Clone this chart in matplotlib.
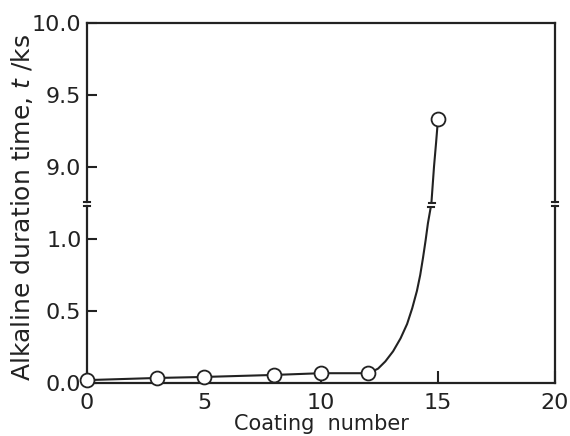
import matplotlib
matplotlib.use("Agg")
import matplotlib.pyplot as plt
from matplotlib.lines import Line2D

# data
coating = [0, 3, 5, 8, 10, 12, 15]
duration = [0.02, 0.035, 0.042, 0.056, 0.068, 0.068, 9.33]

# hand-drawn rising curve
curve_lo_x = [12.0, 12.2, 12.44, 12.75, 13.08, 13.4, 13.68, 13.9, 14.1, 14.24,
              14.36, 14.47, 14.57, 14.7]
curve_lo_y = [0.068, 0.08, 0.10, 0.15, 0.22, 0.31, 0.41, 0.52, 0.64, 0.75,
              0.87, 0.99, 1.11, 1.23]
curve_hi_x = [14.72, 14.83, 14.92, 15.0]
curve_hi_y = [8.75, 9.0, 9.17, 9.33]

x_ticks = [0, 5, 10, 15, 20]
y_ticks_lo = [0.0, 0.5, 1.0]
y_ticks_hi = [9.0, 9.5, 10.0]

W, H = 570, 436
fig = plt.figure(figsize=(W / 100, H / 100), dpi=100)
plt.rcParams['font.family'] = ['DejaVu Sans']
tc = '#222222'

def fx(px):
    return px / W

def fy(py):
    return 1 - py / H

L, R = 87, 555
top_hi, bot_hi = 23, 202
top_lo, bot_lo = 206, 383

ax_hi = fig.add_axes([fx(L), fy(bot_hi), fx(R) - fx(L), fy(top_hi) - fy(bot_hi)])
ax_lo = fig.add_axes([fx(L), fy(bot_lo), fx(R) - fx(L), fy(top_lo) - fy(bot_lo)])

ylo_top = (bot_lo - top_lo) / 144.0
yhi_bot = 10.0 - (bot_hi - top_hi) / 143.5

for ax in (ax_hi, ax_lo):
    ax.set_xlim(0, 20)
    for s in ax.spines.values():
        s.set_linewidth(1.6)
        s.set_color(tc)
    ax.tick_params(direction='in', length=7, width=1.5, colors=tc,
                   labelsize=16, pad=4, labelcolor=tc)

ax_lo.set_ylim(0, ylo_top)
ax_hi.set_ylim(yhi_bot, 10.0)

ax_hi.spines['bottom'].set_visible(False)
ax_lo.spines['top'].set_visible(False)
ax_hi.tick_params(axis='x', bottom=False, labelbottom=False)
ax_lo.set_xticks(x_ticks)
ax_lo.set_xticklabels([str(t) for t in x_ticks])
ax_lo.tick_params(axis='x', length=9, pad=7)
ax_lo.set_yticks(y_ticks_lo)
ax_lo.set_yticklabels(['%.1f' % v for v in y_ticks_lo])
ax_hi.set_yticks(y_ticks_hi)
ax_hi.set_yticklabels(['%.1f' % v for v in y_ticks_hi])

# lines
ax_lo.plot(coating[:6], duration[:6], color=tc, lw=1.5, zorder=2, clip_on=False)
ax_lo.plot(curve_lo_x, curve_lo_y, color=tc, lw=1.5, zorder=2)
ax_hi.plot(curve_hi_x, curve_hi_y, color=tc, lw=1.5, zorder=2)

# markers
ax_lo.plot(coating[:6], duration[:6], 'o', ms=10, mfc='white', mec=tc, mew=1.3,
           zorder=5, clip_on=False)
ax_hi.plot(coating[6:], duration[6:], 'o', ms=10, mfc='white', mec=tc, mew=1.3,
           zorder=5, clip_on=False)

# break marks
def brk(xp, yp, w=6):
    fig.add_artist(Line2D([fx(xp - w / 2), fx(xp + w / 2)], [fy(yp), fy(yp)],
                          color=tc, lw=1.5))

for xp in (L, R):
    brk(xp, bot_hi)
    brk(xp, top_lo)
brk(432, 203)
brk(431, 207)

ax_lo.set_xlabel('Coating  number', fontsize=15, color=tc, labelpad=1)
fig.text(fx(22), fy(208), 'Alkaline duration time, $t$ /ks', rotation=90,
         ha='center', va='center', fontsize=18, color=tc)

fig.savefig('out.png', dpi=100, facecolor='white')
